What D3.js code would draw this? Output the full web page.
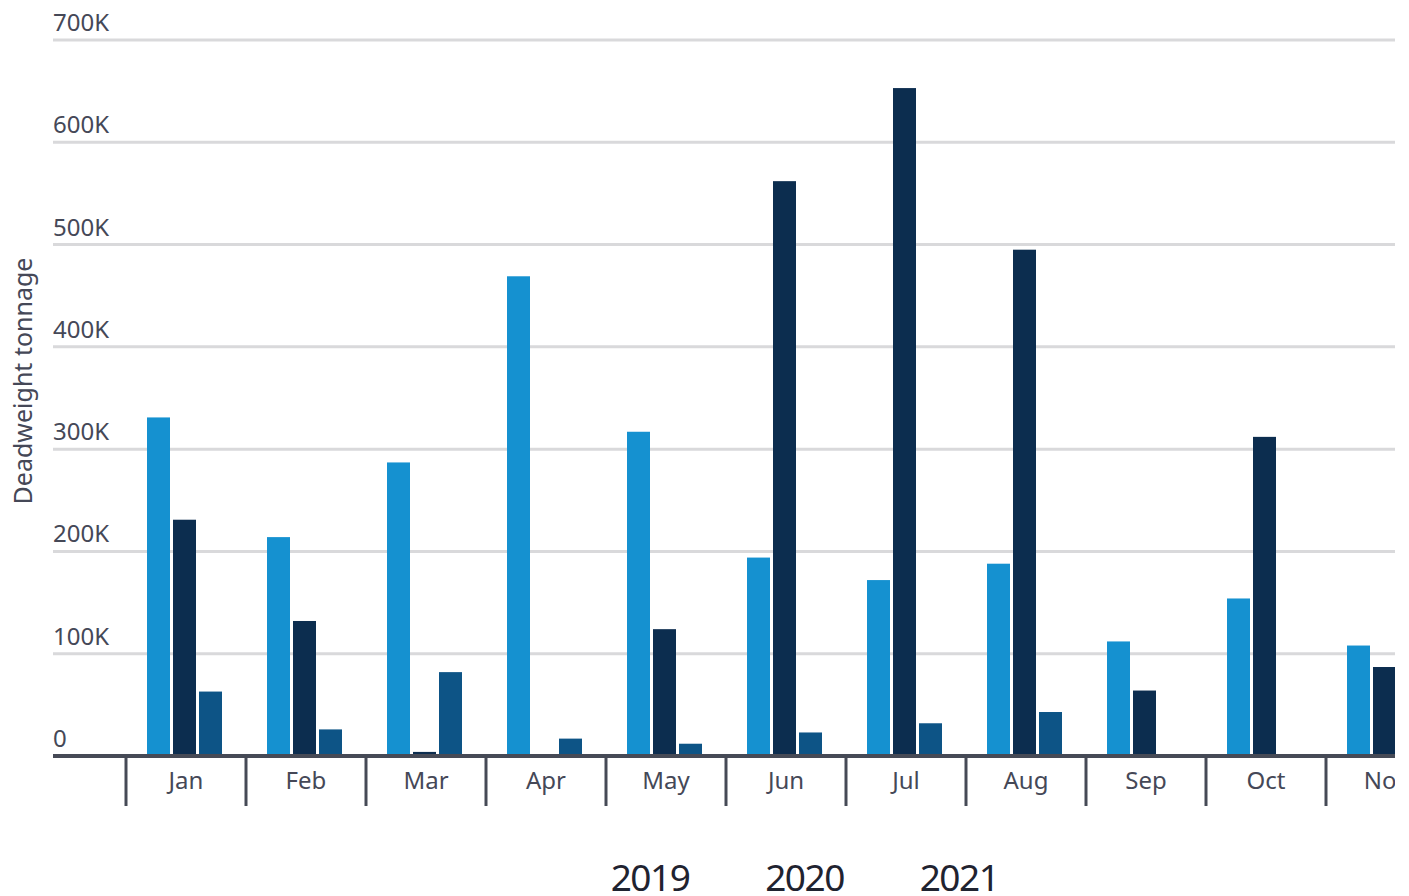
<!DOCTYPE html>
<html>
<head>
<meta charset="utf-8">
<script src="https://cdn.jsdelivr.net/npm/d3@7"></script>
<style>
  body { margin: 0; background: #fff; }
  text { font-family: "Noto Sans", sans-serif; }
</style>
</head>
<body>
<div id="chart"></div>
<script>

// months shown (Nov is cut off at the right edge like the original)
var months = ["Jan", "Feb", "Mar", "Apr", "May", "Jun", "Jul", "Aug", "Sep", "Oct", "Nov"];
var years = ["2019", "2020", "2021"];

// deadweight tonnage per month, in thousands
var values2019 = [331, 214, 287, 469, 317, 194, 172, 188, 112, 154, 108];
var values2020 = [231, 132, 4, 0, 124, 562, 653, 495, 64, 312, 87];
var values2021 = [63, 26, 82, 17, 12, 23, 32, 43, null, null, null];

var yTicks = [0, 100, 200, 300, 400, 500, 600, 700];
var yTickLabels = ["0", "100K", "200K", "300K", "400K", "500K", "600K", "700K"];

var colors = ["#1591d0", "#0c2d4f", "#0d5486"];

var width = 1409;
var height = 896;
var plotLeft = 53, plotRight = 1395, plotTop = 40, plotBottom = 756;

var series = [values2019, values2020, values2021];
var data = months.map(function (m, i) {
    return {
        month: m,
        vals: years.map(function (y, j) {
            return { year: y, value: series[j][i], idx: j };
        })
    };
});

var svg = d3.select('#chart')
    .append('svg')
    .attr('width', width)
    .attr('height', height);

svg.append('defs').append('clipPath')
    .attr('id', 'plotClip')
    .append('rect')
    .attr('x', plotLeft)
    .attr('y', 0)
    .attr('width', plotRight - plotLeft)
    .attr('height', height);

var y = d3.scaleLinear()
    .domain([0, 700])
    .range([plotBottom, plotTop]);

// first band starts at 126, each month 120px wide
var x0 = d3.scaleBand()
    .domain(months)
    .range([126, 126 + 120 * months.length])
    .paddingInner(0)
    .paddingOuter(0);

var x1 = d3.scaleBand()
    .domain(years)
    .range([21, 96])
    .paddingInner(3 / 26)
    .paddingOuter(0);

// gridlines
svg.selectAll('.grid')
    .data(yTicks.slice(1))
    .enter().append('line')
    .attr('x1', plotLeft)
    .attr('x2', plotRight)
    .attr('y1', function (d) { return y(d); })
    .attr('y2', function (d) { return y(d); })
    .attr('stroke', '#d9d9db')
    .attr('stroke-width', 3);

// y tick labels sit above each gridline
svg.selectAll('.ylabel')
    .data(yTicks)
    .enter().append('text')
    .attr('x', plotLeft)
    .attr('y', function (d) { return y(d) - 9; })
    .attr('font-size', 24)
    .attr('fill', '#454857')
    .text(function (d, i) { return yTickLabels[i]; });

var plot = svg.append('g').attr('clip-path', 'url(#plotClip)');

var groups = plot.selectAll('.month')
    .data(data)
    .enter().append('g')
    .attr('transform', function (d) { return 'translate(' + x0(d.month) + ',0)'; });

groups.selectAll('rect')
    .data(function (d) { return d.vals.filter(function (v) { return v.value; }); })
    .enter().append('rect')
    .attr('x', function (d) { return x1(d.year); })
    .attr('width', x1.bandwidth())
    .attr('y', function (d) { return y(d.value); })
    .attr('height', function (d) { return plotBottom - y(d.value); })
    .attr('fill', function (d) { return colors[d.idx]; });

// month labels
plot.selectAll('.xlabel')
    .data(months)
    .enter().append('text')
    .attr('x', function (d) { return x0(d) + x0.bandwidth() / 2; })
    .attr('y', 789)
    .attr('text-anchor', 'middle')
    .attr('font-size', 24)
    .attr('fill', '#454857')
    .text(function (d) { return d; });

// band separators below the axis
plot.selectAll('.xtick')
    .data(months)
    .enter().append('line')
    .attr('x1', function (d) { return x0(d); })
    .attr('x2', function (d) { return x0(d); })
    .attr('y1', plotBottom)
    .attr('y2', 806)
    .attr('stroke', '#464a56')
    .attr('stroke-width', 3);

// axis baseline
svg.append('line')
    .attr('x1', plotLeft)
    .attr('x2', plotRight)
    .attr('y1', plotBottom)
    .attr('y2', plotBottom)
    .attr('stroke', '#464a56')
    .attr('stroke-width', 4);

// y axis title
svg.append('text')
    .attr('transform', 'translate(32,381) rotate(-90)')
    .attr('text-anchor', 'middle')
    .attr('font-size', 25)
    .attr('fill', '#454857')
    .text('Deadweight tonnage');

// legend (text only)
var legendX = d3.scalePoint()
    .domain(years)
    .range([650, 959]);

svg.selectAll('.legend')
    .data(years)
    .enter().append('text')
    .attr('x', function (d) { return legendX(d); })
    .attr('y', 891)
    .attr('text-anchor', 'middle')
    .attr('font-family', '"Open Sans", sans-serif')
    .attr('font-size', 37)
    .attr('letter-spacing', -1.5)
    .attr('fill', '#1f2330')
    .text(function (d) { return d; });

</script>
</body>
</html>
